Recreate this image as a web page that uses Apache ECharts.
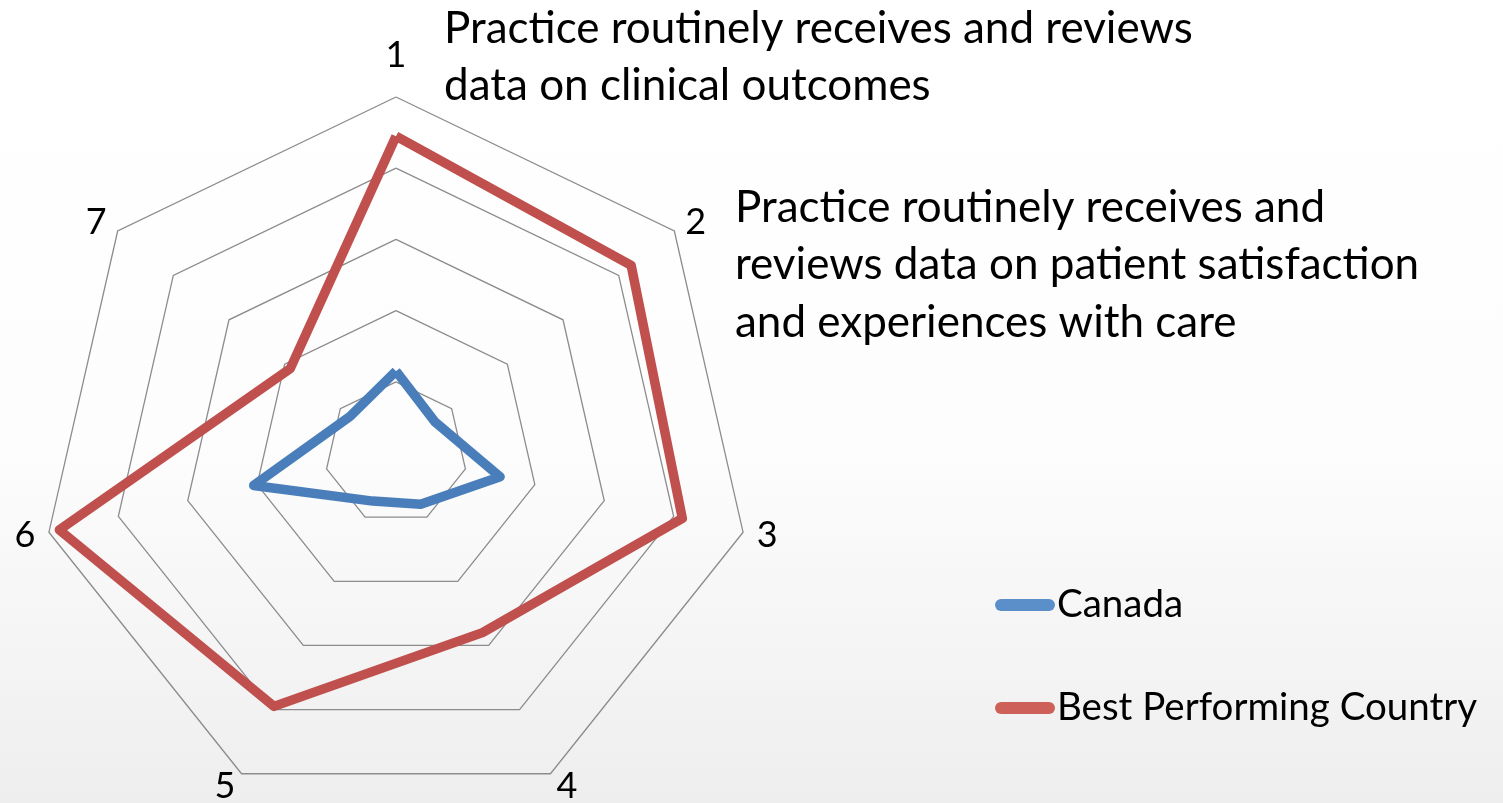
<!DOCTYPE html>
<html>
<head>
<meta charset="utf-8">
<script src="https://cdn.jsdelivr.net/npm/echarts@6/dist/echarts.min.js"></script>
<style>
  html, body { margin: 0; padding: 0; }
  #main { width: 1503px; height: 803px; }
</style>
</head>
<body>
<div id="main"></div>
<script>
// axis numbers, in clockwise order as in the picture
const categories = ['1', '2', '3', '4', '5', '6', '7'];
// share of practices, percent
const canada = [23, 14, 30, 16, 15, 41, 16.5];
const bestCountry = [89, 84.5, 82.5, 56, 79, 97, 38];
const seriesNames = ['Canada', 'Best Performing Country'];
const noteClinical = ['Practice routinely receives and reviews', 'data on clinical outcomes'];
const noteSatisfaction = ['Practice routinely receives and', 'reviews data on patient satisfaction', 'and experiences with care'];

const FONT = 'Lato, "Open Sans", sans-serif';

// echarts lays radar axes counter-clockwise, so walk 1,7,6,...,2
const order = [0, 6, 5, 4, 3, 2, 1];
const pick = arr => order.map(i => arr[i]);

// pill shaped legend mark
const pill = 'path://M6,0 L54,0 A6,6 0 0 1 54,12 L6,12 A6,6 0 0 1 6,0 Z';

let chart = echarts.init(document.getElementById('main'));

let option = {
    animation: false,
    backgroundColor: {
        type: 'linear', x: 0, y: 0, x2: 0, y2: 1,
        colorStops: [
            { offset: 0, color: '#ffffff' },
            { offset: 0.55, color: '#fdfdfd' },
            { offset: 1, color: '#eeeeee' }
        ]
    },
    legend: {
        orient: 'vertical',
        left: 995,
        top: 585,
        padding: 0,
        itemWidth: 60,
        itemHeight: 12,
        itemGap: 63,
        icon: pill,
        textStyle: { fontFamily: FONT, fontSize: 38.5, color: '#000', lineHeight: 40, padding: [0, 0, 0, -3] },
        data: [
            { name: seriesNames[0], itemStyle: { color: '#5b8fca' } },
            { name: seriesNames[1], itemStyle: { color: '#cd6059' } }
        ]
    },
    radar: {
        center: [396, 453],
        radius: 356,
        startAngle: 90,
        splitNumber: 5,
        shape: 'polygon',
        indicator: pick(categories).map(c => ({ name: c, max: 100, min: 0 })),
        axisName: {
            color: '#000', fontFamily: FONT, fontSize: 36,
            formatter: n => n === categories[0] ? '{top|' + n + '}' : n,
            rich: { top: { fontFamily: FONT, fontSize: 36, color: '#000', padding: [0, 0, 10, 0] } }
        },
        nameGap: 14,
        axisLine: { show: false },
        axisTick: { show: false },
        axisLabel: { show: false },
        splitArea: { show: false },
        splitLine: { lineStyle: { color: '#8c8c8c', width: 1.3 } }
    },
    graphic: [
        {
            type: 'text', left: 444, top: 0,
            style: { text: noteClinical.join('\n'), font: '44px ' + FONT, lineHeight: 57, fill: '#000' }
        },
        {
            type: 'text', left: 735, top: 179,
            style: { text: noteSatisfaction.join('\n'), font: '44px ' + FONT, lineHeight: 57.5, fill: '#000' }
        }
    ],
    series: [{
        type: 'radar',
        symbol: 'none',
        data: [
            { name: seriesNames[0], value: pick(canada),
              lineStyle: { color: '#4a7ebb', width: 9.5 }, itemStyle: { color: '#4a7ebb' } },
            { name: seriesNames[1], value: pick(bestCountry),
              lineStyle: { color: '#c0504d', width: 9.5 }, itemStyle: { color: '#c0504d' } }
        ]
    }]
};

chart.setOption(option);
</script>
</body>
</html>
